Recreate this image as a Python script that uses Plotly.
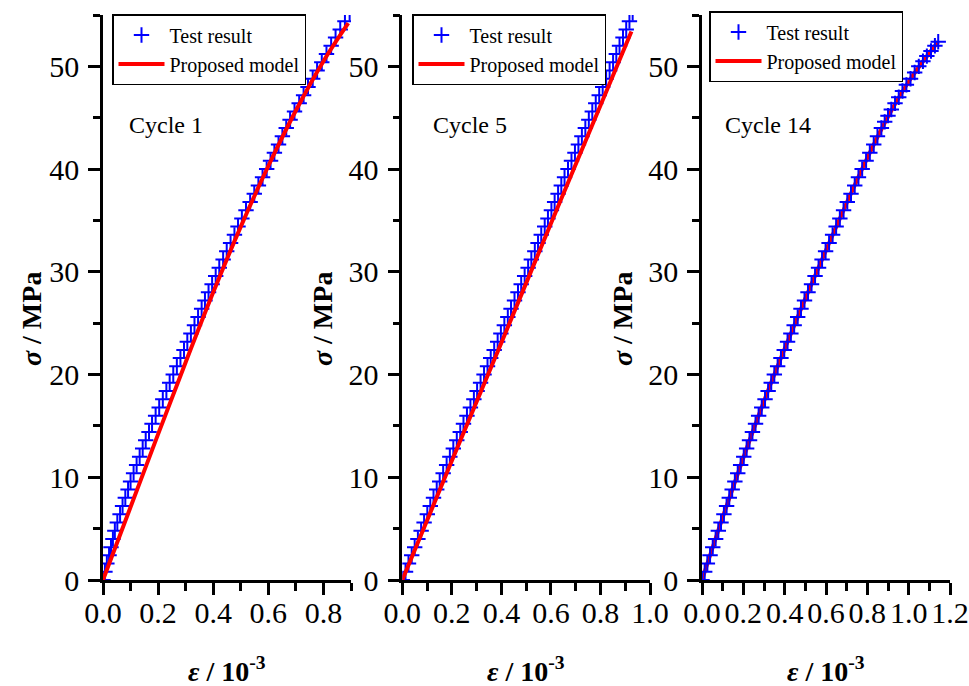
import plotly.graph_objects as go

W, H = 969, 686
FONT = "Liberation Serif, Times New Roman, serif"

# ---------------- Data ----------------
# Cycle 1 - test result
stress_c1 = [0, 0.8, 1.6, 2.4, 3.2, 4.0, 4.8, 5.6, 6.4, 7.2, 8.0, 8.8, 9.6, 10.4, 11.2, 12.0,
             12.8, 13.6, 14.4, 15.2, 16.0, 16.8, 17.6, 18.4, 19.2, 20.0, 20.8, 21.6, 22.4, 23.2,
             24.0, 24.8, 25.6, 26.4, 27.2, 28.0, 28.8, 29.6, 30.4, 31.2, 32.0, 32.8, 33.6, 34.4,
             35.2, 36.0, 36.8, 37.6, 38.4, 39.2, 40.0, 40.8, 41.6, 42.4, 43.2, 44.0, 44.8, 45.6,
             46.4, 47.2, 48.0, 48.8, 49.6, 50.4, 51.2, 52.0, 52.8, 53.6, 54.4, 55.2]
strain_c1 = [0, 0.007, 0.014, 0.022, 0.029, 0.036, 0.043, 0.052, 0.062, 0.071, 0.081, 0.091,
             0.100, 0.111, 0.122, 0.133, 0.144, 0.155, 0.167, 0.178, 0.191, 0.204, 0.217, 0.230,
             0.242, 0.255, 0.268, 0.281, 0.294, 0.306, 0.319, 0.332, 0.345, 0.358, 0.370, 0.383,
             0.396, 0.409, 0.422, 0.436, 0.449, 0.463, 0.477, 0.490, 0.504, 0.519, 0.534, 0.549,
             0.564, 0.579, 0.594, 0.608, 0.622, 0.637, 0.651, 0.665, 0.679, 0.695, 0.712, 0.728,
             0.744, 0.761, 0.777, 0.794, 0.811, 0.828, 0.844, 0.861, 0.878, 0.895]
# Cycle 1 - proposed model
model_strain_c1 = [0, 0.1, 0.2, 0.3, 0.4, 0.5, 0.6, 0.7, 0.8, 0.89]
model_stress_c1 = [0, 7.1, 14.2, 21.2, 28.0, 34.4, 40.3, 45.7, 50.5, 54.2]

# Cycle 5 - test result
stress_c5 = list(stress_c1)
strain_c5 = [0, 0.013, 0.025, 0.038, 0.050, 0.063, 0.076, 0.088, 0.101, 0.113, 0.126, 0.139,
             0.151, 0.165, 0.179, 0.192, 0.206, 0.220, 0.234, 0.247, 0.261, 0.275, 0.289, 0.302,
             0.316, 0.330, 0.344, 0.357, 0.371, 0.385, 0.398, 0.412, 0.426, 0.439, 0.453, 0.467,
             0.480, 0.494, 0.508, 0.521, 0.535, 0.548, 0.561, 0.575, 0.588, 0.602, 0.615, 0.629,
             0.642, 0.655, 0.669, 0.683, 0.697, 0.711, 0.725, 0.739, 0.753, 0.767, 0.781, 0.795,
             0.809, 0.823, 0.837, 0.851, 0.864, 0.877, 0.891, 0.904, 0.917, 0.930]
# Cycle 5 - proposed model
model_strain_c5 = [0, 0.2, 0.4, 0.6, 0.8, 0.925]
model_stress_c5 = [0, 11.6, 23.1, 34.7, 46.2, 53.4]

# Cycle 14 - test result
stress_c14 = [0, 0.8, 1.6, 2.4, 3.2, 4.0, 4.8, 5.6, 6.4, 7.2, 8.0, 8.8, 9.6, 10.4, 11.2, 12.0,
              12.8, 13.6, 14.4, 15.2, 16.0, 16.8, 17.6, 18.4, 19.2, 20.0, 20.8, 21.6, 22.4, 23.2,
              24.0, 24.8, 25.6, 26.4, 27.2, 28.0, 28.8, 29.6, 30.4, 31.2, 32.0, 32.8, 33.6, 34.4,
              35.2, 36.0, 36.8, 37.6, 38.4, 39.2, 40.0, 40.8, 41.6, 42.4, 43.2, 44.0, 44.6, 45.2,
              45.8, 46.4, 47.0, 47.6, 48.2, 48.8, 49.4, 50.0, 50.5, 51.0, 51.5, 52.0, 52.4]
strain_c14 = [0, 0.013, 0.026, 0.039, 0.052, 0.066, 0.079, 0.092, 0.106, 0.119, 0.132, 0.146,
              0.159, 0.173, 0.187, 0.202, 0.216, 0.230, 0.244, 0.259, 0.274, 0.289, 0.305, 0.320,
              0.335, 0.350, 0.366, 0.382, 0.398, 0.414, 0.430, 0.446, 0.463, 0.479, 0.496, 0.513,
              0.530, 0.547, 0.564, 0.581, 0.598, 0.615, 0.632, 0.649, 0.667, 0.685, 0.703, 0.721,
              0.739, 0.757, 0.775, 0.794, 0.812, 0.831, 0.849, 0.868, 0.884, 0.900, 0.916, 0.934,
              0.952, 0.970, 0.989, 1.009, 1.029, 1.049, 1.069, 1.088, 1.108, 1.127, 1.143]
# Cycle 14 - proposed model
model_strain_c14 = [0, 0.1, 0.2, 0.3, 0.4, 0.5, 0.6, 0.7, 0.8, 0.9, 1.0, 1.1, 1.143]
model_stress_c14 = [0, 6.1, 11.9, 17.4, 22.5, 27.4, 32.1, 36.7, 41.1, 45.1, 48.5, 51.3, 52.4]

cycle_labels = ["Cycle 1", "Cycle 5", "Cycle 14"]
x_ranges = [[0, 0.9], [0, 1.0], [0, 1.2]]
y_range = [0, 55]

# ---------------- Layout geometry (pixels) ----------------
panel_px = [(103, 351), (402.3, 650), (702, 950)]
y_top_px, y_bot_px = 15, 580


def px_x(p):
    return p / W


def px_y(p):
    return (H - p) / H


fig = go.Figure()

panels = [
    (strain_c1, stress_c1, model_strain_c1, model_stress_c1, False),
    (strain_c5, stress_c5, model_strain_c5, model_stress_c5, False),
    (strain_c14, stress_c14, model_strain_c14, model_stress_c14, True),
]

for i, (sx, sy, mx, my, red_below) in enumerate(panels):
    suffix = "" if i == 0 else str(i + 1)
    leg = "legend" if i == 0 else f"legend{i + 1}"
    test = go.Scatter(
        x=sx, y=sy, mode="markers", name="Test result",
        marker=dict(symbol="cross-thin", size=11, color="blue",
                    line=dict(width=2, color="blue")),
        xaxis="x" + suffix, yaxis="y" + suffix, legend=leg, legendrank=1,
    )
    model = go.Scatter(
        x=mx, y=my, mode="lines", name="Proposed model",
        line=dict(color="red", width=4, shape="spline"),
        xaxis="x" + suffix, yaxis="y" + suffix, legend=leg, legendrank=2,
    )
    if red_below:
        fig.add_trace(model)
        fig.add_trace(test)
    else:
        fig.add_trace(test)
        fig.add_trace(model)

axis_common = dict(
    showline=True, linecolor="black", linewidth=2.5,
    ticks="outside", tickwidth=2.5, tickcolor="black",
    showgrid=False, zeroline=False, mirror=False,
    tickfont=dict(family=FONT, size=30, color="black"),
)

layout = dict(
    width=W, height=H,
    margin=dict(l=0, r=0, t=0, b=0, autoexpand=False),
    paper_bgcolor="white", plot_bgcolor="white",
    template="none",
    font=dict(family=FONT, color="black"),
)

for i in range(3):
    suffix = "" if i == 0 else str(i + 1)
    x0, x1 = panel_px[i]
    layout["xaxis" + suffix] = dict(
        axis_common,
        domain=[px_x(x0), px_x(x1)],
        range=x_ranges[i], tick0=0, dtick=0.2, ticklen=12, tickformat=".1f",
        ticklabelstandoff=-8,
        anchor="y" + suffix,
        minor=dict(dtick=0.1, tick0=0, ticklen=8, tickwidth=2.5, tickcolor="black",
                   ticks="outside", showgrid=False),
    )
    layout["yaxis" + suffix] = dict(
        axis_common,
        domain=[px_y(y_bot_px), px_y(y_top_px)],
        range=y_range, tick0=0, dtick=10, ticklen=12,
        ticklabelstandoff=3,
        anchor="x" + suffix,
        minor=dict(dtick=5, tick0=0, ticklen=7, tickwidth=2.5, tickcolor="black",
                   ticks="outside", showgrid=False),
    )

legend_pos = [(112, 14), (412, 14), (709, 11)]
for i, (lx, ly) in enumerate(legend_pos):
    key = "legend" if i == 0 else f"legend{i + 1}"
    layout[key] = dict(
        x=px_x(lx), y=px_y(ly), xanchor="left", yanchor="top",
        bgcolor="white", bordercolor="black", borderwidth=1.5,
        font=dict(family=FONT, size=20, color="black"),
        itemwidth=46, tracegroupgap=0, traceorder="normal",
    )

annotations = []
ytitle_x = [31, 322, 622]
cycle_x = [127, 431, 723]
for i in range(3):
    x0, x1 = panel_px[i]
    annotations.append(dict(
        text="<b><i>ε</i> / 10<sup>-3</sup></b>", xref="paper", yref="paper",
        x=px_x((x0 + x1) / 2), y=px_y(669), xanchor="center", yanchor="middle",
        showarrow=False, font=dict(family=FONT, size=28, color="black"),
    ))
    annotations.append(dict(
        text="<b><i>σ</i> / MPa</b>", xref="paper", yref="paper",
        x=px_x(ytitle_x[i]), y=px_y(319), xanchor="center", yanchor="middle",
        textangle=-90, showarrow=False, font=dict(family=FONT, size=28, color="black"),
    ))
    annotations.append(dict(
        text=cycle_labels[i], xref="paper", yref="paper",
        x=px_x(cycle_x[i]), y=px_y(125), xanchor="left", yanchor="middle",
        showarrow=False, font=dict(family=FONT, size=24, color="black"),
    ))
layout["annotations"] = annotations

fig.update_layout(**layout)
fig.write_html("out.html")
